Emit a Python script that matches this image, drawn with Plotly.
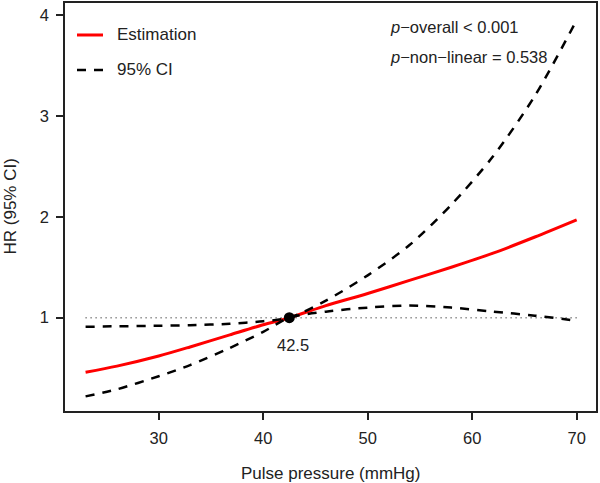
import plotly.graph_objects as go

# Data
x_est = [23, 26, 30, 33, 36.8, 40, 42.5, 46, 50, 54, 58, 62, 66, 70]
hr_est = [0.46, 0.52, 0.62, 0.71, 0.83, 0.93, 1.0, 1.12, 1.24, 1.37, 1.50, 1.64, 1.80, 1.97]
ci_upper = [0.91, 0.915, 0.92, 0.925, 0.94, 0.965, 1.0, 1.17, 1.42, 1.72, 2.12, 2.60, 3.20, 3.95]
ci_lower = [0.22, 0.29, 0.42, 0.53, 0.70, 0.86, 1.0, 1.06, 1.10, 1.12, 1.10, 1.06, 1.02, 0.97]
ref_x = 42.5
ref_y = 1.0
x_ticks = [30, 40, 50, 60, 70]
y_ticks = [1, 2, 3, 4]
legend_labels = ["Estimation", "95% CI"]

FONT = "Liberation Sans, Arial, sans-serif"
TXT = "#222222"

fig = go.Figure()

# reference dotted line at HR = 1
fig.add_trace(go.Scatter(x=[x_est[0], x_est[-1]], y=[1, 1], mode="lines",
                         line=dict(color="#555555", width=1.5, dash="1px,4px"),
                         showlegend=False, hoverinfo="skip"))
fig.add_trace(go.Scatter(x=x_est, y=hr_est, mode="lines", name=legend_labels[0], showlegend=False,
                         line=dict(color="#FF0000", width=3, shape="spline", smoothing=0.8)))
fig.add_trace(go.Scatter(x=x_est, y=ci_upper, mode="lines", name=legend_labels[1], showlegend=False,
                         line=dict(color="black", width=2.5, dash="9px,8px", shape="spline", smoothing=0.8)))
fig.add_trace(go.Scatter(x=x_est, y=ci_lower, mode="lines", name=legend_labels[1], showlegend=False,
                         line=dict(color="black", width=2.5, dash="9px,8px", shape="spline", smoothing=0.8)))
fig.add_trace(go.Scatter(x=[ref_x], y=[ref_y], mode="markers",
                         marker=dict(color="black", size=11), showlegend=False))
fig.add_annotation(x=ref_x, y=ref_y, xref="x", yref="y", text=str(ref_x), showarrow=False,
                   xshift=4, yshift=-27, font=dict(family=FONT, size=16.5, color=TXT))

# manual legend (R-style)
leg_rows = [(0.9216, "#FF0000", 3, "solid"), (0.8358, "black", 2.5, "9px,8px")]
for (yy, col, w, d), lab in zip(leg_rows, legend_labels):
    fig.add_shape(type="line", xref="paper", yref="paper", x0=0.0226, x1=0.0716, y0=yy, y1=yy,
                  line=dict(color=col, width=w, dash=d))
    fig.add_annotation(x=0.0942, y=yy, xref="paper", yref="paper", xanchor="left", yanchor="middle",
                       text=lab, showarrow=False, font=dict(family=FONT, size=17, color=TXT))

fig.add_annotation(x=51.94, y=3.88, xref="x", yref="y", xanchor="left", yanchor="middle",
                   text="<i>p</i>−overall &lt; 0.001", showarrow=False,
                   font=dict(family=FONT, size=16.5, color=TXT))
fig.add_annotation(x=51.94, y=3.585, xref="x", yref="y", xanchor="left", yanchor="middle",
                   text="<i>p</i>−non−linear = 0.538", showarrow=False,
                   font=dict(family=FONT, size=16.5, color=TXT))

# axis titles placed like R's mtext
fig.add_annotation(x=-0.1045, y=0.5, xref="paper", yref="paper", textangle=-90,
                   xanchor="center", yanchor="middle", text="HR (95% CI)", showarrow=False,
                   font=dict(family=FONT, size=17, color=TXT))
fig.add_annotation(x=0.5, y=-0.152, xref="paper", yref="paper",
                   xanchor="center", yanchor="middle", text="Pulse pressure (mmHg)", showarrow=False,
                   font=dict(family=FONT, size=17, color=TXT))

axis_common = dict(showgrid=False, zeroline=False, showline=True, mirror=True,
                   linecolor="#222222", linewidth=1.5, ticks="outside", ticklen=7,
                   tickwidth=1.5, tickcolor="#222222", automargin=False,
                   tickfont=dict(family=FONT, size=16.5, color=TXT))

fig.update_xaxes(range=[21.03, 71.85], tickvals=x_ticks, ticklabelstandoff=4, **axis_common)
fig.update_yaxes(range=[0.075, 4.12], tickvals=y_ticks, ticklabelstandoff=4, **axis_common)

fig.update_layout(width=600, height=483, margin=dict(l=65, r=4, t=3, b=72),
                  plot_bgcolor="white", paper_bgcolor="white", showlegend=False)

fig.write_html("out.html")
